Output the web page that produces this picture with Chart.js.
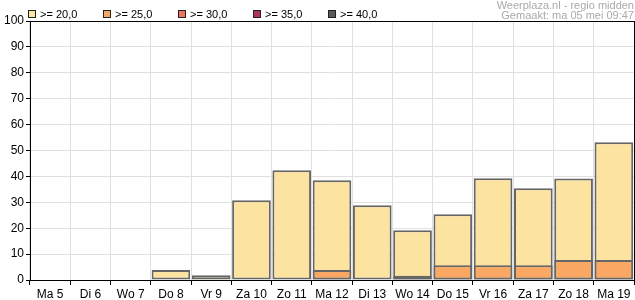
<!DOCTYPE html>
<html>
<head>
<meta charset="utf-8">
<script src="https://cdn.jsdelivr.net/npm/chart.js@4/dist/chart.umd.min.js"></script>
<style>
    body { margin: 0; background: #fff; font-family: "Liberation Sans", Arial, sans-serif; }
    #wrap { position: relative; width: 635px; height: 300px; }
    #legend { position: absolute; left: 28px; top: 8px; font-size: 11px; color: #000; }
    #legend span.item { position: absolute; top: 0; white-space: nowrap; line-height: 13px; }
    #legend span.box { display: inline-block; width: 6px; height: 6px; border: 1px solid #222; margin-right: 4px; vertical-align: 0px; }
    #credit { position: absolute; right: 1px; top: 0px; font-size: 11px; color: #aaa; text-align: right; line-height: 10px; }
</style>
</head>
<body>
<div id="wrap">
    <canvas id="rainChart" width="635" height="300"></canvas>
    <div id="legend"></div>
    <div id="credit">Weerplaza.nl - regio midden<br>Gemaakt: ma 05 mei 09:47</div>
</div>
<script>
const days = ["Ma 5", "Di 6", "Wo 7", "Do 8", "Vr 9", "Za 10", "Zo 11", "Ma 12", "Di 13", "Wo 14", "Do 15", "Vr 16", "Za 17", "Zo 18", "Ma 19"];
const seriesNames = [">= 20,0", ">= 25,0", ">= 30,0", ">= 35,0", ">= 40,0"];
const seriesColors = ["#fde3a0", "#fca865", "#f07462", "#b0325e", "#5a5a5a"];
const above20 = [0, 0, 0, 3.9, 1.8, 30.8, 42.4, 38.5, 28.9, 19.2, 25.4, 39.3, 35.4, 39.2, 53.2];
const above25 = [0, 0, 0, 0, 0, 0, 0, 3.9, 0, 1.6, 5.7, 5.7, 5.7, 7.7, 7.7];
const above30 = [0, 0, 0, 0, 0, 0, 0, 0, 0, 0, 0, 0, 0, 0, 0];
const above35 = [0, 0, 0, 0, 0, 0, 0, 0, 0, 0, 0, 0, 0, 0, 0];
const above40 = [0, 0, 0, 0, 0, 0, 0, 0, 0, 0, 0, 0, 0, 0, 0];
const yTicks = [0, 10, 20, 30, 40, 50, 60, 70, 80, 90, 100];

// html legend, items 75px apart like the original
const legendEl = document.getElementById("legend");
seriesNames.forEach(function (name, i) {
    const item = document.createElement("span");
    item.className = "item";
    item.style.left = (i * 75) + "px";
    item.innerHTML = '<span class="box" style="background:' + seriesColors[i] + '"></span>' + name;
    legendEl.appendChild(item);
});

// frame around the plot area
const frame = {
    id: "frame",
    afterDraw(chart) {
        const a = chart.chartArea;
        const c = chart.ctx;
        c.save();
        c.strokeStyle = "#000";
        c.lineWidth = 1;
        c.strokeRect(Math.round(a.left) + 0.5, Math.round(a.top) + 0.5, Math.round(a.right - a.left), Math.round(a.bottom - a.top));
        c.restore();
    }
};

const allSeries = [above20, above25, above30, above35, above40];
const ctx = document.getElementById("rainChart");
new Chart(ctx, {
    type: "bar",
    data: {
        labels: days,
        datasets: allSeries.map(function (vals, i) {
            return {
                label: seriesNames[i],
                data: vals,
                backgroundColor: seriesColors[i],
                borderColor: "#666",
                borderWidth: 2,
                borderSkipped: false,
                order: 10 - i,
                categoryPercentage: 1,
                barPercentage: 0.96
            };
        })
    },
    options: {
        responsive: false,
        animation: false,
        layout: { padding: { top: 21, right: 1, left: 0, bottom: 0 } },
        plugins: { legend: { display: false }, tooltip: { enabled: false } },
        scales: {
            x: {
                stacked: true,
                grid: { color: "#e0e0e0", tickColor: "#000", tickLength: 5, offset: true },
                border: { color: "#000" },
                ticks: { color: "#000", font: { family: "Liberation Sans", size: 12 }, padding: 2, maxRotation: 0, autoSkip: false },
                afterFit(scale) { scale.height = 20; }
            },
            y: {
                stacked: false,
                min: 0,
                max: 100,
                afterBuildTicks(scale) { scale.ticks = yTicks.map(v => ({ value: v })); },
                grid: { color: "#e0e0e0", tickColor: "#000", tickLength: 4 },
                border: { color: "#000" },
                ticks: { color: "#000", font: { family: "Liberation Sans", size: 12 }, padding: 2 },
                afterFit(scale) { scale.width = 30; }
            }
        }
    },
    plugins: [frame]
});
</script>
</body>
</html>
